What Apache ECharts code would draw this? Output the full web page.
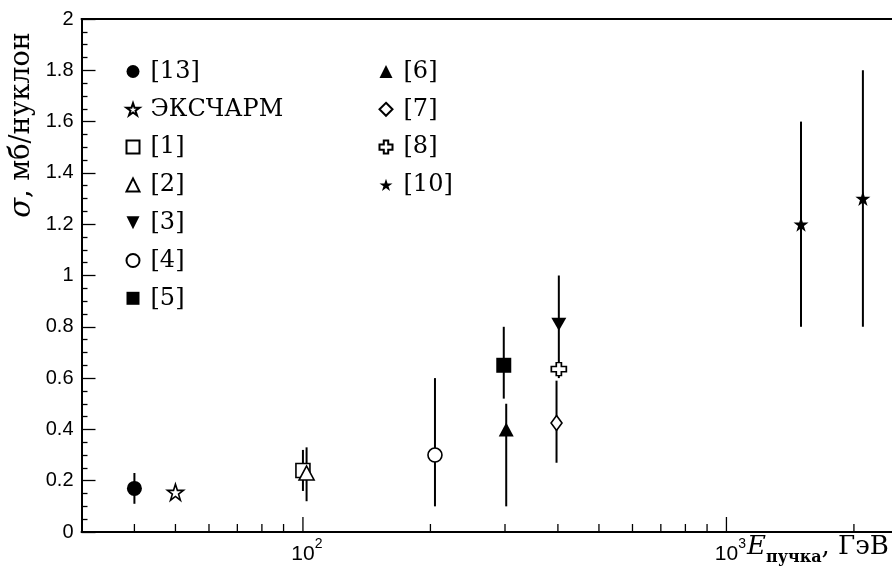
<!DOCTYPE html>
<html><head><meta charset="utf-8">
<script src="https://cdn.jsdelivr.net/npm/echarts@6/dist/echarts.min.js"></script>
<style>html,body{margin:0;padding:0;background:#fff}#c{width:892px;height:575px}</style>
</head><body><div id="c"></div>
<script>
// ---- data ----
const seriesLabels = ['[13]','ЭКСЧАРМ','[1]','[2]','[3]','[4]','[5]','[6]','[7]','[8]','[10]'];
const beamEnergy   = [[40],[50],[100],[102],[402],[205],[298],[302],[397],[402],[1500,2100]];
const crossSection = [[0.17],[0.155],[0.24],[0.23],[0.81],[0.30],[0.65],[0.40],[0.425],[0.635],[1.2,1.3]];
const errorLow     = [[0.11],[null],[0.16],[0.12],[0.60],[0.10],[0.52],[0.10],[0.27],[null],[0.80,0.80]];
const errorHigh    = [[0.23],[null],[0.32],[0.33],[1.00],[0.60],[0.80],[0.50],[0.59],[null],[1.60,1.80]];
const xMajorTicks  = [100, 1000];
const xMinorTicks  = [40,50,60,70,80,90,200,300,400,500,600,700,800,900,2000];
const xRange = [30, 3000];
const yRange = [0, 2];
const yStep = 0.2;

// ---- styles ----
const STAR = 'path://M50,0 L61.8,35.1 L98.9,35.1 L68.9,56.7 L80.3,91.9 L50,70 L19.7,91.9 L31.1,56.7 L1.1,35.1 L38.2,35.1 Z';
const PLUS = 'path://M33,0 L67,0 L67,30 L100,30 L100,70 L67,70 L67,100 L33,100 L33,70 L0,70 L0,30 L33,30 Z';
const DOWN = 'path://M0,0 L100,0 L50,100 Z';
const markers = [
  {symbol:'circle', size:15, fill:'#000'},
  {symbol:STAR, size:16, fill:'#fff'},
  {symbol:'rect', size:14, fill:'#fff'},
  {symbol:'triangle', size:[15,14], fill:'#fff'},
  {symbol:DOWN, size:[15,13], fill:'#000'},
  {symbol:'circle', size:14, fill:'#fff'},
  {symbol:'rect', size:15, fill:'#000'},
  {symbol:'triangle', size:[15,14], fill:'#000'},
  {symbol:'diamond', size:[11,15], fill:'#fff'},
  {symbol:PLUS, size:[15,13], fill:'#fff'},
  {symbol:STAR, size:15, fill:'#000'}
];
const SERIF = 'DejaVu Serif';
const SANS = 'Liberation Sans';

const chart = echarts.init(document.getElementById('c'), null, {renderer:'canvas'});

const scatterSeries = seriesLabels.map((name, i) => ({
  name, type:'scatter', z:3,
  symbol: markers[i].symbol, symbolSize: markers[i].size,
  itemStyle: {color: markers[i].fill, borderColor:'#000', borderWidth: markers[i].fill === '#fff' ? 1.6 : 0, opacity:1},
  emphasis:{disabled:true},
  data: beamEnergy[i].map((e, j) => [e, crossSection[i][j]])
}));

const errData = [];
beamEnergy.forEach((arr, i) => arr.forEach((e, j) => {
  if (errorLow[i][j] != null) errData.push([e, errorLow[i][j], errorHigh[i][j]]);
}));

function tickSeries(vals, len) {
  return {
    type:'custom', silent:true, z:4, clip:false,
    encode:{x:0, y:1},
    data: vals.map(v => [v, yRange[0]]),
    renderItem: (p, api) => {
      const a = api.coord([api.value(0), api.value(1)]);
      return {type:'line', shape:{x1:a[0], y1:a[1], x2:a[0], y2:a[1]-len}, style:{stroke:'#000', lineWidth:1.3}};
    }
  };
}

const isPow10 = v => Math.abs(Math.log10(v) - Math.round(Math.log10(v))) < 1e-6;
const legendText = {fontFamily:SERIF, fontSize:24, lineHeight:24, color:'#000', padding:[0,0,0,6]};

chart.setOption({
  animation:false,
  backgroundColor:'#fff',
  grid:{left:81.5, top:19, height:513, width:847, outerBoundsMode:'none', containLabel:false},
  xAxis:[{
    type:'log', logBase:10, min:xRange[0], max:xRange[1],
    axisLine:{lineStyle:{color:'#000', width:2}},
    axisTick:{show:false},
    splitLine:{show:false},
    axisLabel:{
      margin:5, fontFamily:SANS, fontSize:21, lineHeight:34, color:'#000', padding:[0,0,0,8],
      formatter: v => isPow10(v) ? '10{s|' + Math.round(Math.log10(v)) + '}' : '',
      rich:{
        s:{fontFamily:SANS, fontSize:14, lineHeight:14, color:'#000', verticalAlign:'top'}
      }
    }
  },{
    type:'log', logBase:10, min:xRange[0], max:xRange[1], position:'top',
    axisLine:{lineStyle:{color:'#000', width:2}},
    axisTick:{show:false}, axisLabel:{show:false}, splitLine:{show:false}
  }],
  yAxis:{
    type:'value', min:yRange[0], max:yRange[1], interval:yStep,
    axisLine:{show:true, lineStyle:{color:'#000', width:2}},
    axisTick:{show:true, inside:true, length:14, lineStyle:{color:'#000', width:1.3}},
    minorTick:{show:true, splitNumber:4, length:6, lineStyle:{color:'#000', width:1.3}},
    splitLine:{show:false},
    axisLabel:{margin:8, fontFamily:SANS, fontSize:20, color:'#000',
      formatter: v => String(Math.round(v*10)/10)}
  },
  legend:[{
    data: seriesLabels.slice(0,7), orient:'vertical', left:125.5, top:59.5, padding:0,
    itemWidth:13, itemHeight:13, itemGap:13.8, selectedMode:false, textStyle:legendText
  },{
    data: seriesLabels.slice(7), orient:'vertical', left:378.5, top:59.5, padding:0,
    itemWidth:13, itemHeight:13, itemGap:13.8, selectedMode:false, textStyle:legendText
  }],
  graphic:[{
    type:'text', x:22, y:125, rotation:Math.PI/2,
    style:{text:'{i|σ}{n|, мб/нуклон}', align:'center', verticalAlign:'middle',
      rich:{i:{fontFamily:SERIF, fontStyle:'italic', fontSize:29, fill:'#000'}, n:{fontFamily:SERIF, fontSize:27, fill:'#000'}}}
  },{
    type:'text', x:747, y:550,
    style:{text:'{e|E}{s|пучка}{n|, ГэВ}', align:'left', verticalAlign:'middle',
      rich:{
        e:{fontFamily:SERIF, fontStyle:'italic', fontSize:26, fill:'#000', verticalAlign:'bottom', padding:[0,0,6,0]},
        s:{fontFamily:SERIF, fontWeight:'bold', fontSize:16, fill:'#000', verticalAlign:'bottom'},
        n:{fontFamily:SERIF, fontSize:26, fill:'#000', verticalAlign:'bottom', padding:[0,0,6,0]}
      }}
  }],
  series:[
    {type:'custom', name:'errors', silent:true, z:2, encode:{x:0, y:[1,2]}, data:errData,
      renderItem:(p, api) => {
        const x = api.value(0);
        const a = api.coord([x, api.value(1)]), b = api.coord([x, api.value(2)]);
        return {type:'line', shape:{x1:a[0], y1:a[1], x2:b[0], y2:b[1]}, style:{stroke:'#000', lineWidth:2}};
      }},
    tickSeries(xMajorTicks, 15),
    tickSeries(xMinorTicks, 8),
    ...scatterSeries
  ]
});
</script></body></html>
